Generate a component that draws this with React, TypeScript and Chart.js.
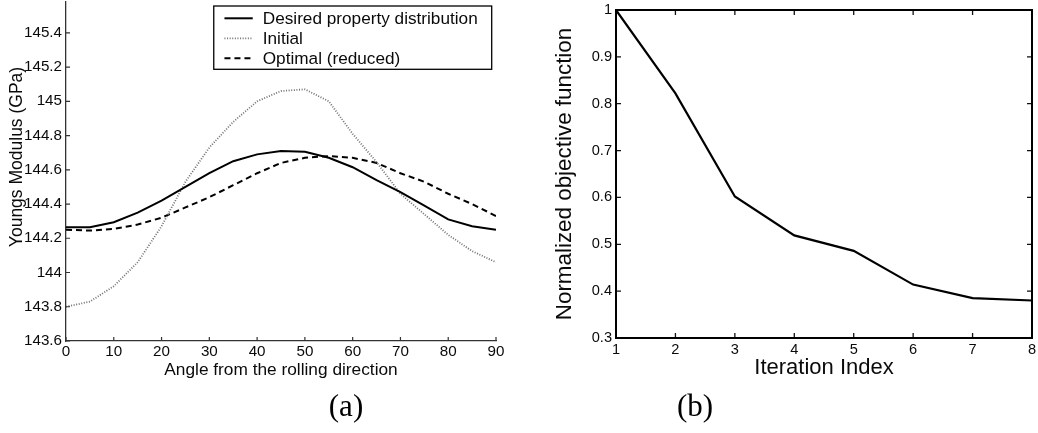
import React, { useEffect, useRef } from "react";
import { Chart, registerables } from "chart.js";

Chart.register(...registerables);

// ---------- data: chart (a) ----------
const ANGLES = [0, 5, 10, 15, 20, 25, 30, 35, 40, 45, 50, 55, 60, 65, 70, 75, 80, 85, 90];
const DESIRED = [144.265, 144.265, 144.294, 144.35, 144.42, 144.5, 144.58, 144.65, 144.69, 144.71, 144.705, 144.67, 144.615, 144.54, 144.47, 144.39, 144.31, 144.27, 144.25];
const INITIAL = [143.8, 143.83, 143.92, 144.06, 144.27, 144.53, 144.73, 144.88, 145.0, 145.06, 145.07, 145.0, 144.81, 144.645, 144.46, 144.34, 144.22, 144.125, 144.06];
const OPTIMAL = [144.25, 144.245, 144.255, 144.28, 144.32, 144.38, 144.44, 144.51, 144.58, 144.64, 144.67, 144.68, 144.67, 144.64, 144.58, 144.53, 144.46, 144.4, 144.33];
const ANGLE_TICKS = [0, 10, 20, 30, 40, 50, 60, 70, 80, 90];
const MODULUS_TICKS = [143.6, 143.8, 144, 144.2, 144.4, 144.6, 144.8, 145, 145.2, 145.4];
const SERIES_LABELS = ["Desired property distribution", "Initial", "Optimal (reduced)"];

// ---------- data: chart (b) ----------
const ITERATIONS = [1, 2, 3, 4, 5, 6, 7, 8];
const OBJECTIVE = [1.0, 0.822, 0.602, 0.519, 0.486, 0.414, 0.385, 0.38];
const ITERATION_TICKS = [1, 2, 3, 4, 5, 6, 7, 8];
const OBJECTIVE_TICKS = [0.3, 0.4, 0.5, 0.6, 0.7, 0.8, 0.9, 1];

const SANS = "'Liberation Sans', Arial, Helvetica, sans-serif";
const INK = "#0a0a0a";

const fmt = (v: any) => String(Math.round(Number(v) * 10) / 10);

const inwardTicks = {
  id: "inwardTicks",
  afterDraw(chart: any, _args: any, opts: any) {
    const { ctx, chartArea: a } = chart;
    const xs = chart.scales.x;
    const ys = chart.scales.y;
    const len = opts.length ?? 4;
    ctx.save();
    ctx.strokeStyle = opts.color ?? INK;
    ctx.lineWidth = opts.width ?? 1;
    ctx.setLineDash([]);
    ctx.beginPath();
    xs.ticks.forEach((t: any) => {
      const p = xs.getPixelForValue(t.value);
      ctx.moveTo(p, a.bottom);
      ctx.lineTo(p, a.bottom - len);
      if (opts.mirror) {
        ctx.moveTo(p, a.top);
        ctx.lineTo(p, a.top + len);
      }
    });
    ys.ticks.forEach((t: any) => {
      const p = ys.getPixelForValue(t.value);
      ctx.moveTo(a.left, p);
      ctx.lineTo(a.left + len, p);
      if (opts.mirror) {
        ctx.moveTo(a.right, p);
        ctx.lineTo(a.right - len, p);
      }
    });
    ctx.stroke();
    if (opts.box) {
      ctx.lineWidth = opts.boxWidth ?? 2;
      ctx.strokeStyle = opts.boxColor ?? "#000";
      ctx.strokeRect(a.left, a.top, a.right - a.left, a.bottom - a.top);
    }
    ctx.restore();
  },
};

const boxLegend = {
  id: "boxLegend",
  afterDatasetsDraw(chart: any, _args: any, opts: any) {
    if (!opts || !opts.display) return;
    const { ctx, chartArea: a } = chart;
    const datasets = chart.data.datasets;
    ctx.save();
    ctx.font = `${opts.fontSize}px ${SANS}`;
    const tw = Math.max(...datasets.map((d: any) => ctx.measureText(d.label).width));
    const padL = 10.7, sample = 28.3, gap = 10, padR = 14, rowH = 20, firstRow = 12.3;
    const w = padL + sample + gap + tw + padR;
    const h = firstRow + rowH * (datasets.length - 1) + 11;
    const right = a.right - 4.3;
    const top = a.top + 4;
    const left = right - w;
    ctx.fillStyle = "#fff";
    ctx.fillRect(left, top, w, h);
    ctx.lineWidth = 1.3;
    ctx.strokeStyle = "#000";
    ctx.strokeRect(left, top, w, h);
    datasets.forEach((d: any, i: number) => {
      const y = top + firstRow + i * rowH;
      ctx.beginPath();
      ctx.setLineDash(d.borderDash || []);
      ctx.strokeStyle = d.borderColor;
      ctx.lineWidth = d.borderWidth;
      ctx.moveTo(left + padL, y);
      ctx.lineTo(left + padL + sample, y);
      ctx.stroke();
      ctx.setLineDash([]);
      ctx.fillStyle = INK;
      ctx.textAlign = "left";
      ctx.textBaseline = "middle";
      ctx.fillText(d.label, left + padL + sample + gap, y + 1);
    });
    ctx.restore();
  },
};

const sideTitle = {
  id: "sideTitle",
  afterDraw(chart: any, _args: any, opts: any) {
    if (!opts || !opts.text) return;
    const { ctx } = chart;
    ctx.save();
    ctx.translate(opts.x, opts.y);
    ctx.rotate(-Math.PI / 2);
    ctx.font = `${opts.fontSize}px ${SANS}`;
    ctx.fillStyle = INK;
    ctx.textAlign = "center";
    ctx.textBaseline = "middle";
    ctx.fillText(opts.text, 0, 0);
    ctx.restore();
  },
};

function ModulusChart() {
  const ref = useRef<HTMLCanvasElement>(null);
  useEffect(() => {
    const series = [DESIRED, INITIAL, OPTIMAL];
    const styles = [
      { borderColor: "#000", borderWidth: 2, borderDash: [] as number[] },
      { borderColor: "#707070", borderWidth: 1.8, borderDash: [1, 1.6] },
      { borderColor: "#000", borderWidth: 2, borderDash: [6, 4] },
    ];
    const chart = new Chart(ref.current as HTMLCanvasElement, {
      type: "line",
      data: {
        datasets: series.map((s, i) => ({
          label: SERIES_LABELS[i],
          data: ANGLES.map((x, j) => ({ x, y: s[j] })),
          ...styles[i],
          pointRadius: 0,
          tension: 0,
          fill: false,
        })),
      },
      plugins: [inwardTicks, boxLegend, sideTitle],
      options: {
        animation: false,
        responsive: false,
        maintainAspectRatio: false,
        layout: { padding: { top: 2, right: 24, left: 0, bottom: 0 } },
        plugins: {
          legend: { display: false },
          tooltip: { enabled: false },
          inwardTicks: { length: 4, color: "#333", width: 1.2 },
          boxLegend: { display: true, fontSize: 17.2 },
          sideTitle: { text: "Youngs Modulus (GPa)", x: 17.5, y: 157, fontSize: 17.5 },
        } as any,
        scales: {
          x: {
            type: "linear",
            min: 0,
            max: 90,
            grid: { display: false, drawTicks: false },
            border: { display: true, color: "#333", width: 1.3 },
            ticks: { padding: 2, color: INK, font: { family: SANS, size: 15.2 }, callback: fmt },
            title: {
              display: true,
              text: "Angle from the rolling direction",
              color: INK,
              font: { family: SANS, size: 17.3 },
              padding: { top: 0, bottom: 52.5 },
            },
            afterBuildTicks: (s: any) => {
              s.ticks = ANGLE_TICKS.map((v) => ({ value: v }));
            },
            afterFit: (s: any) => {
              s.height = 92;
              s.paddingLeft = 0;
              s.paddingRight = 0;
            },
          },
          y: {
            type: "linear",
            min: 143.6,
            max: 145.58,
            grid: { display: false, drawTicks: false },
            border: { display: true, color: "#333", width: 1.3 },
            ticks: { padding: 4, color: INK, font: { family: SANS, size: 15.2 }, callback: fmt },
            afterBuildTicks: (s: any) => {
              s.ticks = MODULUS_TICKS.map((v) => ({ value: v }));
            },
            afterFit: (s: any) => {
              s.width = 66;
              s.paddingTop = 0;
              s.paddingBottom = 0;
            },
          },
        },
      } as any,
    });
    return () => chart.destroy();
  }, []);
  return <canvas ref={ref} width={520} height={433} style={{ display: "block" }} />;
}

function ObjectiveChart() {
  const ref = useRef<HTMLCanvasElement>(null);
  useEffect(() => {
    const chart = new Chart(ref.current as HTMLCanvasElement, {
      type: "line",
      data: {
        datasets: [
          {
            label: "Normalized objective function",
            data: ITERATIONS.map((x, j) => ({ x, y: OBJECTIVE[j] })),
            borderColor: "#000",
            borderWidth: 2.2,
            pointRadius: 0,
            tension: 0,
            fill: false,
          },
        ],
      },
      plugins: [inwardTicks],
      options: {
        animation: false,
        responsive: false,
        maintainAspectRatio: false,
        layout: { padding: { top: 10, right: 6, left: 0, bottom: 0 } },
        plugins: {
          legend: { display: false },
          tooltip: { enabled: false },
          inwardTicks: { length: 5, color: "#111", width: 1.3, mirror: true, box: true, boxWidth: 2 },
        } as any,
        scales: {
          x: {
            type: "linear",
            min: 1,
            max: 8,
            grid: { display: false, drawTicks: false },
            border: { display: false },
            ticks: { padding: 3, color: INK, font: { family: SANS, size: 14.6 }, callback: fmt },
            title: {
              display: true,
              text: "Iteration Index",
              color: INK,
              font: { family: SANS, size: 22 },
              padding: { top: 0, bottom: 51.8 },
            },
            afterBuildTicks: (s: any) => {
              s.ticks = ITERATION_TICKS.map((v) => ({ value: v }));
            },
            afterFit: (s: any) => {
              s.height = 95;
              s.paddingLeft = 0;
              s.paddingRight = 0;
            },
          },
          y: {
            type: "linear",
            min: 0.3,
            max: 1,
            grid: { display: false, drawTicks: false },
            border: { display: false },
            ticks: { padding: 4, color: INK, font: { family: SANS, size: 14.6 }, callback: fmt },
            title: {
              display: true,
              text: "Normalized objective function",
              color: INK,
              font: { family: SANS, size: 22.4 },
              padding: { top: 31.5, bottom: 0 },
            },
            afterBuildTicks: (s: any) => {
              s.ticks = OBJECTIVE_TICKS.map((v) => ({ value: v }));
            },
            afterFit: (s: any) => {
              s.width = 96;
              s.paddingTop = 0;
              s.paddingBottom = 0;
            },
          },
        },
      } as any,
    });
    return () => chart.destroy();
  }, []);
  return <canvas ref={ref} width={518} height={433} style={{ display: "block" }} />;
}

const captionStyle: React.CSSProperties = {
  position: "absolute",
  top: 390,
  width: 100,
  height: 31,
  lineHeight: "31px",
  textAlign: "center",
  fontFamily: "'Liberation Serif', 'Times New Roman', serif",
  fontSize: 31,
  color: "#000",
};

export default function App() {
  return (
    <div style={{ position: "fixed", left: 0, top: 0, width: 1038, height: 433, background: "#fff", overflow: "hidden" }}>
      <div style={{ position: "absolute", left: 0, top: 0 }}>
        <ModulusChart />
      </div>
      <div style={{ position: "absolute", left: 520, top: 0 }}>
        <ObjectiveChart />
      </div>
      <div style={{ ...captionStyle, left: 346 - 50 }}>(a)</div>
      <div style={{ ...captionStyle, left: 695 - 50 }}>(b)</div>
    </div>
  );
}
